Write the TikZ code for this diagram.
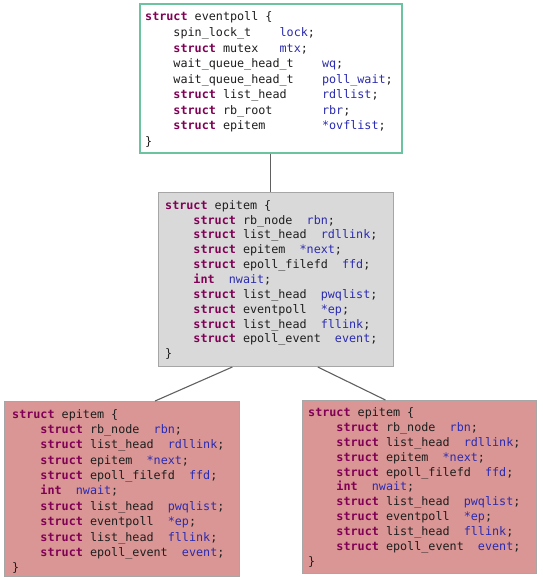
\documentclass[tikz,border=0pt]{standalone}
\usepackage{fontspec}
\setmonofont{DejaVu Sans Mono}
\usetikzlibrary{calc}
\definecolor{kwc}{HTML}{800055}
\definecolor{idc}{HTML}{2B2BB0}
\definecolor{txc}{HTML}{1E1E1E}
\definecolor{teal}{HTML}{6CC3A0}
\definecolor{grayfill}{HTML}{D9D9D9}
\definecolor{grayedge}{HTML}{A6A6A6}
\definecolor{redfill}{HTML}{D99694}
\definecolor{lnc}{HTML}{606060}
\newcommand{\kw}[1]{\textbf{\color{kwc}#1}}
\newcommand{\vn}[1]{{\color{idc}#1}}
\newcommand{\sk}[1]{\hspace*{#1\fontcharwd\font`\x}}
\newcommand{\epitembody}{%
\rule{0pt}{10pt}\kw{struct} epitem \{\\
\sk{4}\kw{struct} rb\_node\sk{2}\vn{rbn};\\
\sk{4}\kw{struct} list\_head\sk{2}\vn{rdllink};\\
\sk{4}\kw{struct} epitem\sk{2}\vn{*next};\\
\sk{4}\kw{struct} epoll\_filefd\sk{2}\vn{ffd};\\
\sk{4}\kw{int}\sk{2}\vn{nwait};\\
\sk{4}\kw{struct} list\_head\sk{2}\vn{pwqlist};\\
\sk{4}\kw{struct} eventpoll\sk{2}\vn{*ep};\\
\sk{4}\kw{struct} list\_head\sk{2}\vn{fllink};\\
\sk{4}\kw{struct} epoll\_event\sk{2}\vn{event};\\
\}}
\begin{document}
\begin{tikzpicture}[x=1pt,y=-1pt,
  box/.style={anchor=north west, inner sep=0pt, line width=1pt, draw=grayedge},
  code/.style={anchor=north west, inner sep=0pt, align=left, text=txc,
    font=\ttfamily\fontsize{11.75}{#1}\selectfont},
  conn/.style={draw=lnc, line width=1.1pt}]
\useasboundingbox (0,0) rectangle (543,579);
% boxes
\node[box, draw=teal, line width=1.5pt, fill=white, minimum width=262pt, minimum height=149pt] (ep) at (139,3) {};
\node[box, fill=grayfill, minimum width=235pt, minimum height=174pt] (ei) at (158,192) {};
\node[box, fill=redfill, minimum width=235pt, minimum height=175pt] (l) at (4,401) {};
\node[box, fill=redfill, minimum width=234pt, minimum height=173pt] (r) at (302,400) {};
% texts
\node[code=15.56] (eptxt) at (145,10.7) {%
\rule{0pt}{10pt}\kw{struct} eventpoll \{\\
\sk{4}spin\_lock\_t\sk{4}\vn{lock};\\
\sk{4}\kw{struct} mutex\sk{3}\vn{mtx};\\
\sk{4}wait\_queue\_head\_t\sk{4}\vn{wq};\\
\sk{4}wait\_queue\_head\_t\sk{4}\vn{poll\_wait};\\
\sk{4}\kw{struct} list\_head\sk{5}\vn{rdllist};\\
\sk{4}\kw{struct} rb\_root\sk{7}\vn{rbr};\\
\sk{4}\kw{struct} epitem\sk{8}\vn{*ovflist};\\
\}};
\node[code=14.85] (eitxt) at (165,199) {\epitembody};
\node[code=15.35] (ltxt) at (12,408) {\epitembody};
\node[code=14.95] (rtxt) at (308,406) {\epitembody};
% connectors
\draw[conn] (ep.south) -- (ep.south |- ei.north);
\draw[conn] ($(ei.south west)!0.315!(ei.south east)$) -- ($(l.north west)!0.64!(l.north east)$);
\draw[conn] ($(ei.south west)!0.677!(ei.south east)$) -- ($(r.north west)!0.355!(r.north east)$);
\end{tikzpicture}
\end{document}
